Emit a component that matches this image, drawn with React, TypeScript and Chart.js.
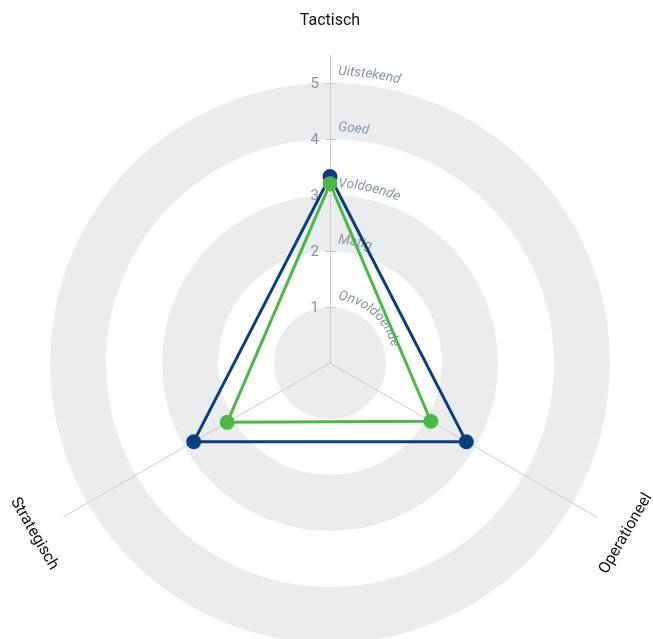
import React, { useEffect, useRef } from "react";
import { Chart, registerables } from "chart.js";

Chart.register(...registerables);

const categories = ["Tactisch", "Operationeel", "Strategisch"];
const blueValues = [3.33, 2.81, 2.81];
const greenValues = [3.2, 2.08, 2.12];
const tickValues = [1, 2, 3, 4, 5];
const levelLabels = ["Onvoldoende", "Matig", "Voldoende", "Goed", "Uitstekend"];
const bandRanges = [
  [0, 1],
  [2, 3],
  [4, 5],
];
const axisEnd = 5.5;
const labelValue = 6.1;
const labelRotations = [0, -60, 60];

const BLUE = "#0b3f7b";
const GREEN = "#4db848";
const BAND = "#ebecee";
const AXIS = "#c6cad1";
const TEXT_GRAY = "#8892a3";

function drawArcText(ctx: CanvasRenderingContext2D, text: string, cx: number, cy: number, r: number, startPx: number) {
  let theta = -Math.PI / 2 + startPx / r;
  ctx.textAlign = "center";
  ctx.textBaseline = "alphabetic";
  for (const ch of text) {
    const w = ctx.measureText(ch).width;
    const a = theta + w / 2 / r;
    ctx.save();
    ctx.translate(cx + r * Math.cos(a), cy + r * Math.sin(a));
    ctx.rotate(a + Math.PI / 2);
    ctx.fillText(ch, 0, 0);
    ctx.restore();
    theta += w / r;
  }
}

const decorPlugin = {
  id: "decor",
  beforeDatasetsDraw(chart: any) {
    const s = chart.scales.r;
    const ctx: CanvasRenderingContext2D = chart.ctx;
    const cx = s.xCenter;
    const cy = s.yCenter;
    ctx.save();
    // bands
    ctx.fillStyle = BAND;
    for (const [a, b] of bandRanges) {
      const r0 = s.getDistanceFromCenterForValue(a);
      const r1 = s.getDistanceFromCenterForValue(b);
      ctx.beginPath();
      ctx.arc(cx, cy, r1, 0, Math.PI * 2);
      if (r0 > 0) {
        ctx.moveTo(cx + r0, cy);
        ctx.arc(cx, cy, r0, 0, Math.PI * 2, true);
      }
      ctx.fill("evenodd");
    }
    // angle lines
    ctx.strokeStyle = AXIS;
    ctx.lineWidth = 1;
    for (let i = 0; i < categories.length; i++) {
      const p = s.getPointPositionForValue(i, axisEnd);
      const off = i === 0 ? 0.5 : 0;
      ctx.beginPath();
      ctx.moveTo(cx + off, cy);
      ctx.lineTo(p.x + off, p.y);
      ctx.stroke();
    }
    // ticks
    ctx.font = "15px Roboto";
    ctx.fillStyle = TEXT_GRAY;
    ctx.textAlign = "right";
    ctx.textBaseline = "middle";
    for (const v of tickValues) {
      const y = Math.round(cy - s.getDistanceFromCenterForValue(v));
      ctx.beginPath();
      ctx.moveTo(cx - 5, y + 0.5);
      ctx.lineTo(cx + 6, y + 0.5);
      ctx.stroke();
      ctx.fillText(String(v), cx - 11, y + 1);
    }
    // curved level labels
    ctx.font = "italic 13.5px Roboto";
    ctx.fillStyle = TEXT_GRAY;
    levelLabels.forEach((lab, i) => {
      const r = s.getDistanceFromCenterForValue(tickValues[i]) + 8;
      drawArcText(ctx, lab, cx, cy, r, 8);
    });
    // point labels
    ctx.font = "16px Roboto";
    ctx.fillStyle = "#111111";
    ctx.textAlign = "center";
    ctx.textBaseline = "middle";
    categories.forEach((c, i) => {
      const p = s.getPointPositionForValue(i, labelValue);
      ctx.save();
      ctx.translate(p.x, p.y);
      ctx.rotate((labelRotations[i] * Math.PI) / 180);
      ctx.fillText(c, 0, 0);
      ctx.restore();
    });
    ctx.restore();
  },
};

export default function App() {
  const ref = useRef<HTMLCanvasElement>(null);
  useEffect(() => {
    document.body.style.margin = "0";
    const chart = new Chart(ref.current!, {
      type: "radar",
      data: {
        labels: categories,
        datasets: [
          {
            label: "Groen",
            data: greenValues,
            borderColor: GREEN,
            backgroundColor: "rgba(0,0,0,0)",
            pointBackgroundColor: GREEN,
            pointBorderColor: GREEN,
            borderWidth: 3,
            pointRadius: 6,
            fill: false,
          },
          {
            label: "Blauw",
            data: blueValues,
            borderColor: BLUE,
            backgroundColor: "rgba(0,0,0,0)",
            pointBackgroundColor: BLUE,
            pointBorderColor: BLUE,
            borderWidth: 3,
            pointRadius: 6,
            fill: false,
          },
        ],
      },
      options: {
        animation: false,
        responsive: false,
        layout: { padding: { left: 7, right: 0, top: 88, bottom: 0 } },
        plugins: { legend: { display: false }, tooltip: { enabled: false } },
        scales: {
          r: {
            min: 0,
            max: 275 / 56,
            ticks: { display: false, stepSize: 1 },
            grid: { display: false },
            angleLines: { display: false },
            pointLabels: { display: false },
          },
        },
      },
      plugins: [decorPlugin],
    });
    return () => chart.destroy();
  }, []);
  return (
    <div style={{ position: "absolute", left: 0, top: 0, width: 653, height: 639 }}>
      <canvas ref={ref} width={653} height={639} style={{ width: 653, height: 639 }} />
    </div>
  );
}
